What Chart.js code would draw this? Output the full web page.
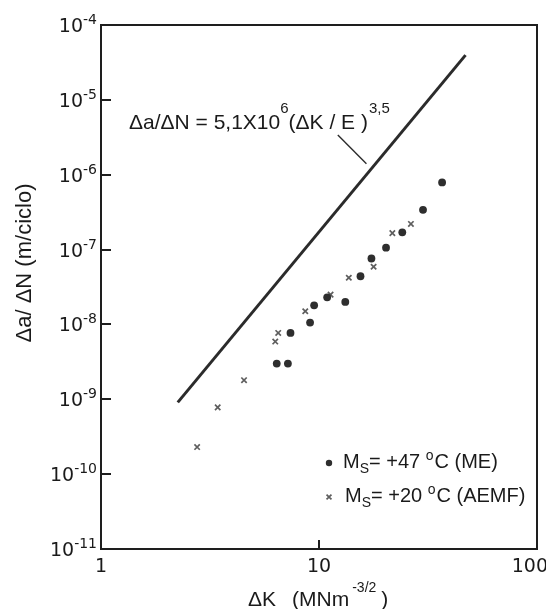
<!DOCTYPE html>
<html>
<head>
<meta charset="utf-8">
<script src="https://cdn.jsdelivr.net/npm/chart.js@4.4.1/dist/chart.umd.min.js"></script>
<style>
  html, body { margin: 0; padding: 0; background: #fff; }
  canvas { display: block; }
</style>
</head>
<body>
<canvas id="chart" width="546" height="609"></canvas>
<script>
// ΔK (MNm^-3/2) against Δa/ΔN (m/ciclo) for each material
const meDeltaK = [6.4, 7.2, 7.4, 9.1, 9.5, 10.9, 13.2, 15.5, 17.4, 20.3, 24.1, 30.0, 36.7]
const meRate = [3.0e-9, 3.0e-9, 7.7e-9, 1.06e-8, 1.8e-8, 2.3e-8, 2.0e-8, 4.4e-8, 7.6e-8, 1.06e-7, 1.7e-7, 3.4e-7, 7.9e-7]
const aemfDeltaK = [2.76, 3.43, 4.53, 6.3, 6.5, 8.65, 11.3, 13.7, 17.8, 21.7, 26.4]
const aemfRate = [2.3e-10, 7.8e-10, 1.8e-9, 5.9e-9, 7.7e-9, 1.5e-8, 2.5e-8, 4.2e-8, 5.9e-8, 1.66e-7, 2.2e-7]

// straight line of the law and the short pointer to it
const lawDeltaK = [2.25, 47]
const lawRate = [9.1e-10, 3.96e-5]
const leaderDeltaK = [12.2, 16.5]
const leaderRate = [3.4e-6, 1.4e-6]

const xTicks = [1, 10, 100]
const yTickExponents = [-11, -10, -9, -8, -7, -6, -5, -4]

const sans = "'Liberation Sans', Arial, sans-serif"
const wide = "'DejaVu Sans', sans-serif"

const toPoints = (xs, ys) => xs.map((v, i) => ({ x: v, y: ys[i] }))

function partsWidth(ctx, parts) {
  let w = 0
  for (const p of parts) {
    ctx.font = p.size + "px " + (p.family || sans)
    w += ctx.measureText(p.text).width + (p.gap || 0)
  }
  return w
}

function drawParts(ctx, x, y, parts) {
  for (const p of parts) {
    ctx.font = p.size + "px " + (p.family || sans)
    ctx.fillText(p.text, x, y + (p.dy || 0))
    x += ctx.measureText(p.text).width + (p.gap || 0)
  }
  return x
}

const frame = {
  id: "frame",
  afterDatasetsDraw(chart) {
    const { ctx, chartArea: a } = chart
    const xs = chart.scales.x
    const ys = chart.scales.y
    ctx.save()

    ctx.strokeStyle = "#1e1e1e"
    ctx.lineWidth = 2
    ctx.strokeRect(a.left, a.top, a.right - a.left, a.bottom - a.top)
    ctx.beginPath()
    for (const e of yTickExponents) {
      const py = Math.round(ys.getPixelForValue(Math.pow(10, e)))
      ctx.moveTo(a.left, py)
      ctx.lineTo(a.left + 10, py)
    }
    for (const v of xTicks) {
      const px = Math.round(xs.getPixelForValue(v))
      ctx.moveTo(px, a.bottom)
      ctx.lineTo(px, a.bottom - 9)
    }
    ctx.stroke()

    ctx.fillStyle = "#1a1a1a"
    ctx.textAlign = "left"
    ctx.textBaseline = "alphabetic"

    // decade labels 10^n on the left
    for (const e of yTickExponents) {
      const py = ys.getPixelForValue(Math.pow(10, e))
      const parts = [
        { text: "10", size: 19, family: wide },
        { text: String(e), size: 14, family: wide, dy: -8 },
      ]
      const w = partsWidth(ctx, parts)
      drawParts(ctx, a.left - 4 - w, py + 7, parts)
    }

    // 1, 10, 100 along the bottom
    ctx.font = "19px " + wide
    for (const v of xTicks) {
      const px = xs.getPixelForValue(v)
      const w = ctx.measureText(String(v)).width
      const left = Math.min(px - w / 2, chart.width - w + 2)
      ctx.fillText(String(v), left, a.bottom + 23)
    }

    // axis titles
    drawParts(ctx, 248, 606, [
      { text: "ΔK", size: 21, gap: 16 },
      { text: "(MNm", size: 21, gap: 3 },
      { text: "-3/2", size: 14, dy: -14, gap: 5 },
      { text: ")", size: 21 },
    ])

    ctx.save()
    ctx.translate(25, 263)
    ctx.rotate(-Math.PI / 2)
    ctx.textAlign = "center"
    ctx.textBaseline = "middle"
    ctx.font = "22px " + sans
    ctx.fillText("Δa/ ΔN (m/ciclo)", 0, 0)
    ctx.restore()

    // law label
    drawParts(ctx, 129, 129, [
      { text: "Δa/ΔN = 5,1X10", size: 21 },
      { text: "6", size: 15, dy: -16 },
      { text: "(ΔK / E )", size: 21, gap: 1 },
      { text: "3,5", size: 15, dy: -16 },
    ])

    // legend
    const rows = [
      { ds: chart.data.datasets[0], y: 468, value: "+47 ", suffix: "C (ME)" },
      { ds: chart.data.datasets[1], y: 502, value: "+20 ", suffix: "C (AEMF)" },
    ]
    rows.forEach((r, i) => {
      ctx.fillStyle = r.ds.backgroundColor
      ctx.strokeStyle = r.ds.borderColor
      ctx.lineWidth = r.ds.borderWidth || 1
      Chart.helpers.drawPoint(ctx, {
        pointStyle: r.ds.pointStyle,
        radius: i === 0 ? 3.2 : 3.5,
        rotation: 0,
        borderWidth: r.ds.borderWidth || 0,
      }, 329, r.y - 5)
      ctx.fillStyle = "#1a1a1a"
      drawParts(ctx, 343 + i * 2, r.y, [
        { text: "M", size: 20 },
        { text: "S", size: 14, dy: 5 },
        { text: "= " + r.value, size: 20 },
        { text: "o", size: 14, dy: -8, gap: 1 },
        { text: r.suffix, size: 20 },
      ])
    })

    ctx.restore()
  },
}

new Chart(document.getElementById("chart"), {
  type: "scatter",
  data: {
    datasets: [
      {
        label: "Ms = +47 °C (ME)",
        data: toPoints(meDeltaK, meRate),
        pointStyle: "circle",
        pointRadius: 3.9,
        backgroundColor: "#2e2e2e",
        borderColor: "#2e2e2e",
        borderWidth: 0,
      },
      {
        label: "Ms = +20 °C (AEMF)",
        data: toPoints(aemfDeltaK, aemfRate),
        pointStyle: "crossRot",
        pointRadius: 3.8,
        backgroundColor: "#5e5e5e",
        borderColor: "#5e5e5e",
        borderWidth: 1.7,
      },
      {
        type: "line",
        data: toPoints(lawDeltaK, lawRate),
        borderColor: "#2b2b2b",
        borderWidth: 3,
        pointRadius: 0,
      },
      {
        type: "line",
        data: toPoints(leaderDeltaK, leaderRate),
        borderColor: "#2b2b2b",
        borderWidth: 1.4,
        pointRadius: 0,
      },
    ],
  },
  options: {
    responsive: false,
    animation: false,
    devicePixelRatio: 1,
    layout: { padding: { left: 101, top: 25, right: 9, bottom: 60 } },
    scales: {
      x: { type: "logarithmic", min: 1, max: 100, display: false },
      y: { type: "logarithmic", min: 1e-11, max: 1e-4, display: false },
    },
    plugins: {
      legend: { display: false },
      tooltip: { enabled: false },
    },
  },
  plugins: [frame],
})
</script>
</body>
</html>
